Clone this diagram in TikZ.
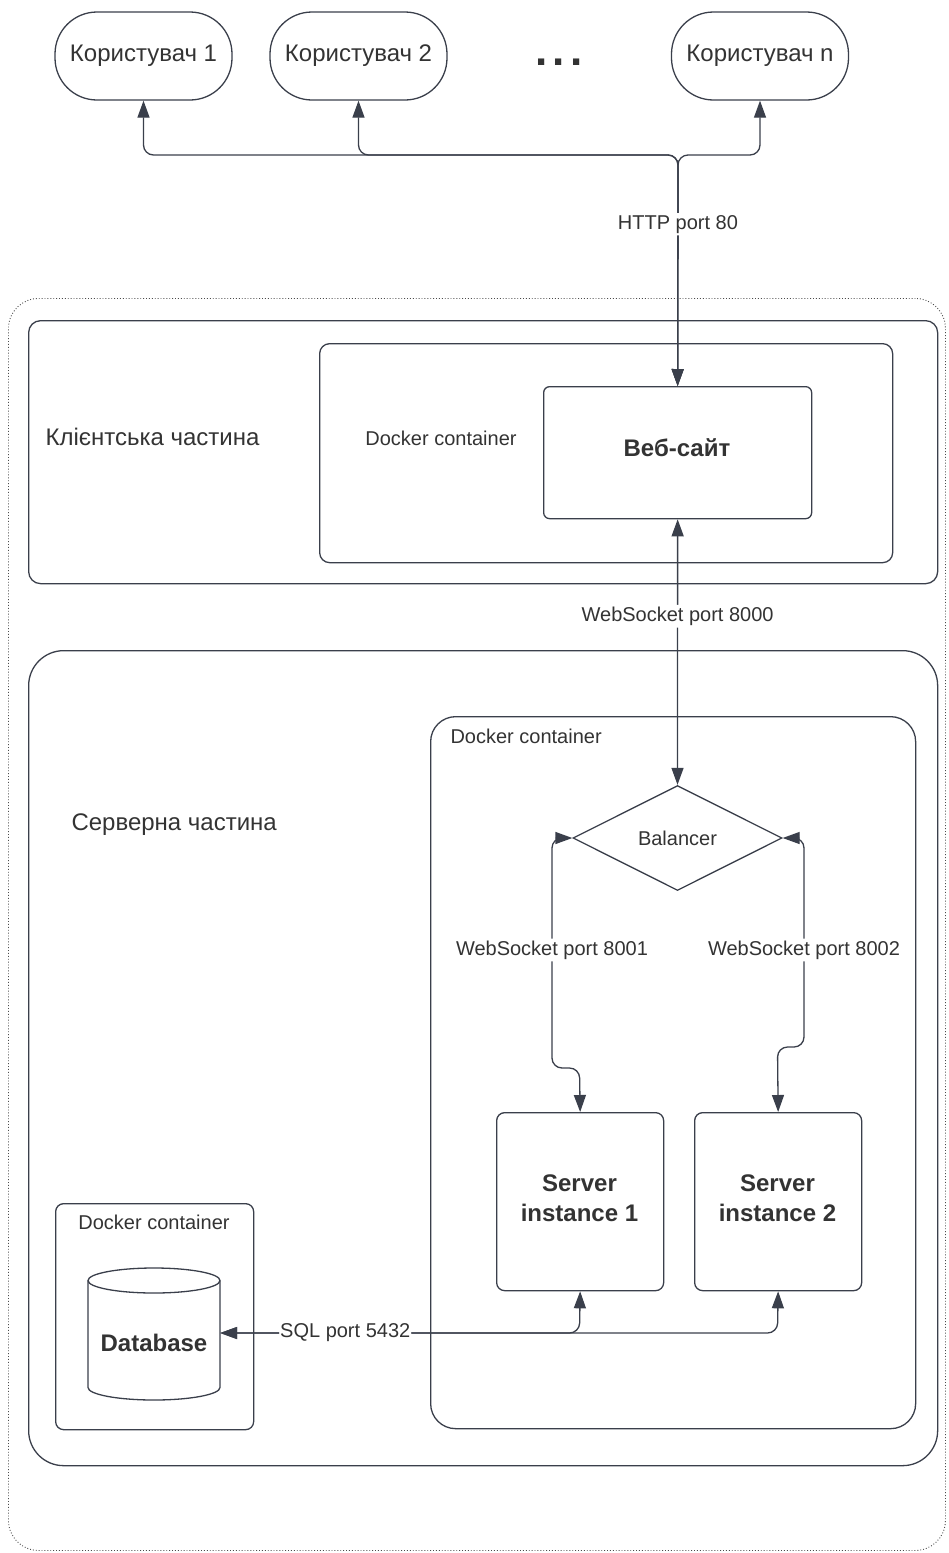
\documentclass[tikz,border=0pt]{standalone}
\usepackage{fontspec}
\setmainfont{Liberation Sans}
\usetikzlibrary{arrows.meta,shapes.geometric}
\definecolor{ln}{HTML}{3A3F4B}
\definecolor{tx}{HTML}{333333}
\begin{document}
\begin{tikzpicture}[x=1pt,y=-1pt,
  big/.style={font=\fontsize{24}{30}\selectfont, text=tx},
  bigb/.style={font=\fontsize{24}{30}\selectfont\bfseries, text=tx, align=center},
  small/.style={font=\fontsize{20}{24}\selectfont, text=tx},
  box/.style={draw=ln, line width=1.3pt, rectangle, inner sep=0pt},
  conn/.style={draw=ln, line width=1.3pt, rounded corners=10pt},
  both/.style={{Triangle[length=17pt,width=12pt]}-{Triangle[length=17pt,width=12pt]}},
  lbl/.style={small, fill=white, inner sep=2pt}
]
\useasboundingbox (0,0) rectangle (948,1553);

% outer dotted frame
\node[draw=gray!60!black, line width=0.9pt, dotted, rounded corners=30pt, inner sep=0pt,
      anchor=north west, minimum width=937pt, minimum height=1252pt] (outer) at (8,298) {};

% users
\node[box, rounded corners=42pt, minimum width=177pt, minimum height=88pt, big] (u1) at (143.5,56) {Користувач 1};
\node[box, rounded corners=42pt, minimum width=177pt, minimum height=88pt, big] (u2) at (358.5,56) {Користувач 2};
\node[box, rounded corners=42pt, minimum width=177pt, minimum height=88pt, big] (un) at (760,56) {Користувач n};
\node[font=\fontsize{44}{44}\selectfont\bfseries, text=tx, inner sep=0pt] (dots) at (559,62) {.\kern5pt.\kern5pt.};

% client part
\node[box, rounded corners=12pt, anchor=north west, minimum width=909pt, minimum height=263pt] (client) at (28,320) {};
\node[box, rounded corners=10pt, anchor=north west, minimum width=573pt, minimum height=219pt] (cdock) at (319,343) {};
\node[box, rounded corners=6pt, anchor=north west, minimum width=268pt, minimum height=132pt] (web) at (543,386) {};
\node[bigb] (weblbl) at (677,448) {Веб-сайт};
\node[big, anchor=west] (clientlbl) at (42,437) {Клієнтська частина};
\node[small] (cdlbl) at (441,438) {Docker container};

% server part
\node[box, rounded corners=35pt, anchor=north west, minimum width=909pt, minimum height=815pt] (server) at (28,650) {};
\node[box, rounded corners=25pt, anchor=north west, minimum width=485pt, minimum height=712pt] (sdock) at (430,716) {};
\node[big, anchor=west] (srvlbl) at (68,825) {Серверна частина};
\node[small, anchor=west] (sdlbl) at (447,736) {Docker container};
\node[draw=ln, line width=1.3pt, diamond, aspect=2, inner sep=0pt, minimum width=209pt, minimum height=105pt, small] (bal) at (677.5,838) {Balancer};
\node[box, rounded corners=8pt, anchor=north west, minimum width=167pt, minimum height=178pt] (s1) at (496,1112) {};
\node[box, rounded corners=8pt, anchor=north west, minimum width=167pt, minimum height=178pt] (s2) at (694,1112) {};
\node[bigb] (s1lbl) at (579.5,1198) {Server\\instance 1};
\node[bigb] (s2lbl) at (777.5,1198) {Server\\instance 2};

% database
\node[box, rounded corners=8pt, anchor=north west, minimum width=198pt, minimum height=226pt] (ddock) at (55,1203) {};
\node[small] (ddlbl) at (154,1222) {Docker container};
\node[inner sep=0pt, minimum width=132pt, minimum height=132pt] (db) at (154,1333) {};
\draw[ln, line width=1.3pt] (88,1280.5) -- (88,1387.5) arc[start angle=180, end angle=0, x radius=66, y radius=12.5] -- (220,1280.5);
\draw[ln, line width=1.3pt] (154,1280.5) ellipse [x radius=66, y radius=12.5];
\node[bigb] (dblbl) at (154,1343) {Database};

% connectors top
\coordinate (bus) at (678,155);
\draw[conn, both] (u1.south) |- (bus) -- (web.north);
\draw[conn, both] (u2.south) |- (bus) -- (web.north);
\draw[conn, both] (un.south) |- (bus) -- node[lbl, pos=0.3] {HTTP port 80} (web.north);

% web to balancer
\draw[conn, both] (web.south) -- node[lbl, pos=0.365] {WebSocket port 8000} (bal.north);

% balancer to servers
\draw[conn, both] (s1.north) -- (579.5,1068) -- (552,1068) -- node[lbl, pos=0.513] {WebSocket port 8001} (552,838) -- (bal.west);
\draw[conn, both] (s2.north) -- (777.5,1047) -- (804,1047) -- node[lbl, pos=0.464] {WebSocket port 8002} (804,838) -- (bal.east);

% SQL
\draw[conn, both] (s2.south) -- (777.5,1333) -- (db.east);
\draw[conn, both] (s1.south) -- (579.5,1333) -- node[lbl, pos=0.652, inner sep=1pt] {SQL port 5432} (db.east);
\end{tikzpicture}
\end{document}
